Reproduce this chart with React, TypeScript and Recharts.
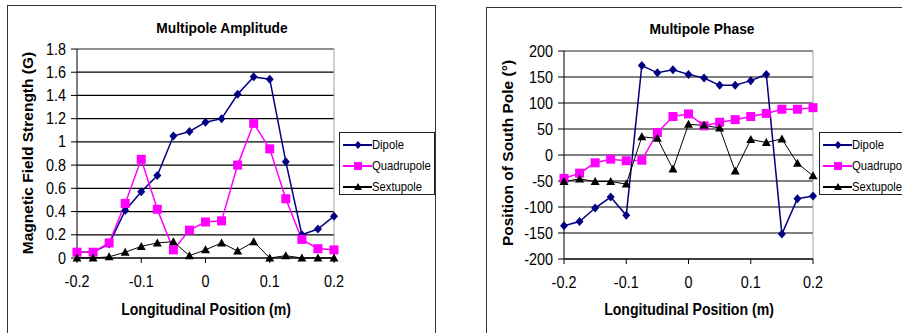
import { LineChart, Line, XAxis, YAxis, CartesianGrid, ReferenceLine, Legend } from 'recharts';

// longitudinal positions (m)
const positions = [-0.2, -0.175, -0.15, -0.125, -0.1, -0.075, -0.05, -0.025, 0, 0.025, 0.05, 0.075, 0.1, 0.125, 0.15, 0.175, 0.2];
const xTicks = [-0.2, -0.1, 0, 0.1, 0.2];

// Multipole Amplitude (G)
const ampDipole = [0.05, 0.05, 0.12, 0.41, 0.57, 0.71, 1.05, 1.09, 1.17, 1.2, 1.41, 1.56, 1.54, 0.83, 0.2, 0.25, 0.36];
const ampQuadrupole = [0.05, 0.05, 0.13, 0.47, 0.85, 0.42, 0.07, 0.24, 0.31, 0.32, 0.8, 1.16, 0.94, 0.51, 0.16, 0.08, 0.07];
const ampSextupole = [0, 0, 0.01, 0.05, 0.1, 0.13, 0.14, 0.02, 0.07, 0.13, 0.06, 0.14, 0, 0.02, 0, 0, 0];
const ampTicks = [0, 0.2, 0.4, 0.6, 0.8, 1, 1.2, 1.4, 1.6, 1.8];

// Multipole Phase (deg)
const phaseDipole = [-136, -128, -102, -81, -116, 172, 158, 164, 155, 148, 134, 134, 143, 155, -152, -84, -79];
const phaseQuadrupole = [-45, -35, -15, -8, -11, -10, 43, 74, 79, 56, 63, 68, 74, 80, 88, 88, 91];
const phaseSextupole = [-51, -46, -51, -51, -56, 35, 32, -27, 59, 57, 52, -31, 30, 24, 31, -16, -40];
const phaseTicks = [-200, -150, -100, -50, 0, 50, 100, 150, 200];

const SERIES = [
  { key: 'dipole', name: 'Dipole', color: '#000080', width: 1.5, shape: 'diamond' },
  { key: 'quadrupole', name: 'Quadrupole', color: '#FF00FF', width: 1.5, shape: 'square' },
  { key: 'sextupole', name: 'Sextupole', color: '#000000', width: 1, shape: 'triangle' },
];

const FONT = '"Liberation Sans", Arial, sans-serif';

const buildRows = (d: number[], q: number[], s: number[]) =>
  positions.map((x, i) => ({ x, dipole: d[i], quadrupole: q[i], sextupole: s[i] }));

const ampData = buildRows(ampDipole, ampQuadrupole, ampSextupole);
const phaseData = buildRows(phaseDipole, phaseQuadrupole, phaseSextupole);

const Marker = ({ cx, cy, shape, color, r = 4.5 }: any) => {
  if (shape === 'diamond')
    return <path d={`M${cx},${cy - r}L${cx + r - 0.5},${cy}L${cx},${cy + r}L${cx - r + 0.5},${cy}Z`} fill={color} />;
  if (shape === 'square') return <rect x={cx - r} y={cy - r} width={r * 2} height={r * 2} fill={color} />;
  return <path d={`M${cx},${cy - r}L${cx + r},${cy + r - 1}L${cx - r},${cy + r - 1}Z`} fill={color} />;
};

const fmt = (v: number) => String(Math.round(v * 10) / 10);

const XTick = ({ x, y, payload }: any) => (
  <text transform={`translate(${x},${y + 22}) scale(0.9,1)`} textAnchor="middle" fontSize={16} fill="#000" fontFamily={FONT}>
    {fmt(payload.value)}
  </text>
);

const YTick = ({ x, y, payload }: any) => (
  <text transform={`translate(${x - 3},${y + 5.5}) scale(0.9,1)`} textAnchor="end" fontSize={16} fill="#000" fontFamily={FONT}>
    {fmt(payload.value)}
  </text>
);

const renderLegend = () => (
  <div style={{ border: '1px solid #222', background: '#fff', width: '100%', height: '100%', boxSizing: 'border-box', paddingTop: 1, fontFamily: FONT }}>
    {SERIES.map((s) => (
      <div key={s.key} style={{ display: 'flex', alignItems: 'center', height: 21 }}>
        <svg width={29} height={12} style={{ marginLeft: 3, flex: 'none' }}>
          <line x1={0} y1={6} x2={29} y2={6} stroke={s.color} strokeWidth={2} />
          <Marker cx={15} cy={6} shape={s.shape} color={s.color} r={4} />
        </svg>
        <span style={{ fontSize: 12.5, display: 'inline-block', transform: 'scaleX(0.9)', transformOrigin: 'left', whiteSpace: 'nowrap', color: '#000' }}>
          {s.name}
        </span>
      </div>
    ))}
  </div>
);

type PanelProps = {
  data: any[];
  left: number;
  width: number;
  yWidth: number;
  top: number;
  bottom: number;
  right: number;
  domain: [number, number];
  ticks: number[];
  legendLeft: number;
  legendWidth: number;
};

const Panel = ({ data, left, width, yWidth, top, bottom, right, domain, ticks, legendLeft, legendWidth }: PanelProps) => (
  <div style={{ position: 'absolute', left, top: 0 }}>
    <LineChart width={width} height={333} data={data} margin={{ top, right, bottom, left: 0 }}>
      <CartesianGrid horizontal vertical={false} stroke="#000" strokeWidth={1.2} />
      <ReferenceLine y={domain[1]} stroke="#a0a0a0" />
      <ReferenceLine x={0.2} stroke="#a0a0a0" />
      <XAxis
        type="number"
        dataKey="x"
        domain={[-0.2, 0.2]}
        ticks={xTicks}
        height={40}
        stroke="#000"
        tickSize={5}
        tick={<XTick />}
      />
      <YAxis type="number" domain={domain} ticks={ticks} width={yWidth} stroke="#000" tickSize={6} tick={<YTick />} interval={0} />
      <Legend
        layout="horizontal"
        verticalAlign="middle"
        align="center"
        content={renderLegend}
        wrapperStyle={{ left: legendLeft, top: 132, width: legendWidth, height: 63 }}
      />
      {SERIES.map((s) => (
        <Line
          key={s.key}
          dataKey={s.key}
          name={s.name}
          stroke={s.color}
          strokeWidth={s.width}
          isAnimationActive={false}
          dot={(p: any) => (
            <g key={p.index}>
              <Marker cx={p.cx} cy={p.cy} shape={s.shape} color={s.color} />
            </g>
          )}
          activeDot={false}
        />
      ))}
    </LineChart>
  </div>
);

const textBase = { position: 'absolute' as const, fontFamily: FONT, color: '#000', whiteSpace: 'nowrap' as const, fontWeight: 'bold' as const };

const Title = ({ x, y, text }: { x: number; y: number; text: string }) => (
  <div style={{ ...textBase, left: x, top: y, fontSize: 15, transform: 'translate(-50%,-50%) scaleX(0.92)' }}>{text}</div>
);

const XLabel = ({ x, y, text }: { x: number; y: number; text: string }) => (
  <div style={{ ...textBase, left: x, top: y, fontSize: 16, transform: 'translate(-50%,-50%) scaleX(0.88)' }}>{text}</div>
);

const YLabel = ({ x, y, text }: { x: number; y: number; text: string }) => (
  <div style={{ ...textBase, left: x, top: y, fontSize: 15.5, transform: 'translate(-50%,-50%) rotate(-90deg)' }}>{text}</div>
);

export default function App() {
  return (
    <div style={{ position: 'fixed', left: 0, top: 0, width: 902, height: 333, overflow: 'hidden', background: '#fff' }}>
      {/* chart frames */}
      <div style={{ position: 'absolute', left: 7, top: 5, width: 429, height: 400, border: '1px solid #333', boxSizing: 'border-box' }} />
      <div style={{ position: 'absolute', left: 486, top: 7, width: 500, height: 400, border: '1px solid #333', boxSizing: 'border-box' }} />

      <Panel
        data={ampData}
        left={0}
        width={440}
        yWidth={77}
        top={49}
        bottom={35}
        right={106}
        domain={[0, 1.8]}
        ticks={ampTicks}
        legendLeft={339}
        legendWidth={96}
      />
      <Panel
        data={phaseData}
        left={450}
        width={500}
        yWidth={114}
        top={51}
        bottom={34}
        right={137}
        domain={[-200, 200]}
        ticks={phaseTicks}
        legendLeft={369}
        legendWidth={100}
      />

      <Title x={222} y={27} text="Multipole Amplitude" />
      <Title x={702} y={28} text="Multipole Phase" />
      <YLabel x={28} y={153} text="Magnetic Field Strength (G)" />
      <YLabel x={508} y={153} text="Position of South Pole (°)" />
      <XLabel x={206} y={310} text="Longitudinal Position (m)" />
      <XLabel x={689} y={310} text="Longitudinal Position (m)" />
    </div>
  );
}
